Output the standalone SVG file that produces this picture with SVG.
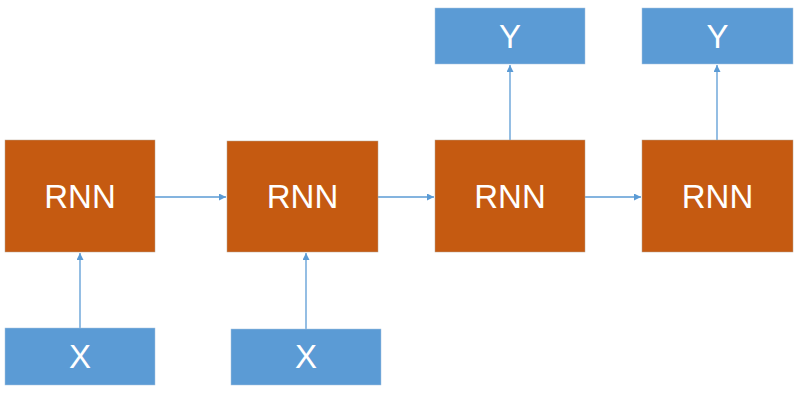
<svg xmlns="http://www.w3.org/2000/svg" width="798" height="400" viewBox="0 0 798 400">
<style>
.rnn{fill:#C55A11;stroke:#B8A38E;stroke-width:0.5}
.io{fill:#5B9BD5;stroke:#A9C4E0;stroke-width:0.5}
.t{font-family:"Liberation Sans",Arial,sans-serif;font-size:33px;fill:#FFFFFF;text-anchor:middle;dominant-baseline:central}
.c{stroke:#5B9BD5;stroke-width:1.3;fill:none;marker-end:url(#ah)}
</style>
<defs>
<marker id="ah" viewBox="0 0 10 10" refX="10" refY="5" markerWidth="7" markerHeight="7" markerUnits="userSpaceOnUse" orient="auto">
<path d="M0,0 L10,5 L0,10 z" fill="#5B9BD5"/>
</marker>
</defs>
<rect width="798" height="400" fill="#FFFFFF"/>
<g id="connectors">
<line class="c" x1="155" y1="197" x2="226" y2="197"/>
<line class="c" x1="378" y1="197" x2="434" y2="197"/>
<line class="c" x1="585" y1="197" x2="641" y2="197"/>
<line class="c" x1="80" y1="328" x2="80" y2="253"/>
<line class="c" x1="306" y1="329" x2="306" y2="253"/>
<line class="c" x1="510" y1="140" x2="510" y2="65"/>
<line class="c" x1="717" y1="140" x2="717" y2="65"/>
</g>
<g id="rnn1"><rect class="rnn" x="5" y="140" width="150" height="112"/><text class="t" x="80" y="196">RNN</text></g>
<g id="rnn2"><rect class="rnn" x="227" y="141" width="151" height="111"/><text class="t" x="302.5" y="196">RNN</text></g>
<g id="rnn3"><rect class="rnn" x="435" y="140" width="150" height="112"/><text class="t" x="510" y="196">RNN</text></g>
<g id="rnn4"><rect class="rnn" x="642" y="140" width="151" height="112"/><text class="t" x="717.5" y="196">RNN</text></g>
<g id="x1"><rect class="io" x="5" y="328" width="150" height="57"/><text class="t" x="80" y="356">X</text></g>
<g id="x2"><rect class="io" x="231" y="329" width="150" height="56"/><text class="t" x="306" y="356">X</text></g>
<g id="y1"><rect class="io" x="435" y="8" width="150" height="56"/><text class="t" x="510" y="36">Y</text></g>
<g id="y2"><rect class="io" x="642" y="8" width="151" height="56"/><text class="t" x="717.5" y="36">Y</text></g>
</svg>
